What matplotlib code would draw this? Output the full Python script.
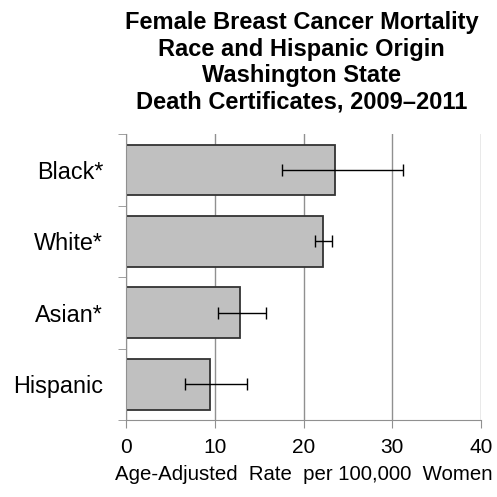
import numpy as np
import matplotlib
matplotlib.use("Agg")
import matplotlib.pyplot as plt

plt.rcParams['font.family'] = ['Liberation Sans', 'DejaVu Sans']

# Age-adjusted rates with 95% confidence limits
groups = ["Black*", "White*", "Asian*", "Hispanic"]
rates = [23.5, 22.2, 12.8, 9.5]
lower = [17.6, 21.3, 10.4, 6.7]
upper = [31.2, 23.2, 15.8, 13.6]

title = ("Female Breast Cancer Mortality\nRace and Hispanic Origin\n"
         "Washington State\nDeath Certificates, 2009\u20132011")

fig = plt.figure(figsize=(4.97, 4.97), dpi=100)
ax = fig.add_axes([0.2535, 0.155, 0.7145, 0.575])

y = np.arange(len(groups))[::-1]
rates_arr = np.array(rates)
xerr = np.vstack([rates_arr - np.array(lower), np.array(upper) - rates_arr])

ax.barh(y, rates, height=0.71, color="#c0c0c0", edgecolor="#333333",
        linewidth=1.3, zorder=2)
ax.errorbar(rates, y, xerr=xerr, fmt="none", ecolor="black", elinewidth=1,
            capsize=4.5, capthick=1, zorder=3)

ax.set_xlim(0, 40)
ax.set_ylim(-0.5, len(groups) - 0.5)
ax.set_xticks([0, 10, 20, 30, 40])
ax.xaxis.grid(True, color="#909090", linewidth=1, zorder=0)
ax.set_axisbelow(True)

ax.set_yticks(y)
ax.set_yticklabels(groups, fontsize=16.8)
ax.set_yticks(np.arange(len(groups) + 1) - 0.5, minor=True)
ax.tick_params(axis="y", which="major", length=0, pad=16.5)
ax.tick_params(axis="y", which="minor", length=6, color="#909090")
ax.tick_params(axis="x", length=6, color="#909090", labelsize=15, pad=7)

for side in ("top", "right"):
    ax.spines[side].set_visible(False)
for side in ("left", "bottom"):
    ax.spines[side].set_color("#909090")

ax.set_xlabel("Age-Adjusted  Rate  per 100,000  Women", fontsize=14.7, labelpad=6)
fig.text(0.607, 0.978, title, ha="center", va="top", fontsize=17,
         fontweight="bold", linespacing=1.2)

fig.savefig("out.png", dpi=100)
